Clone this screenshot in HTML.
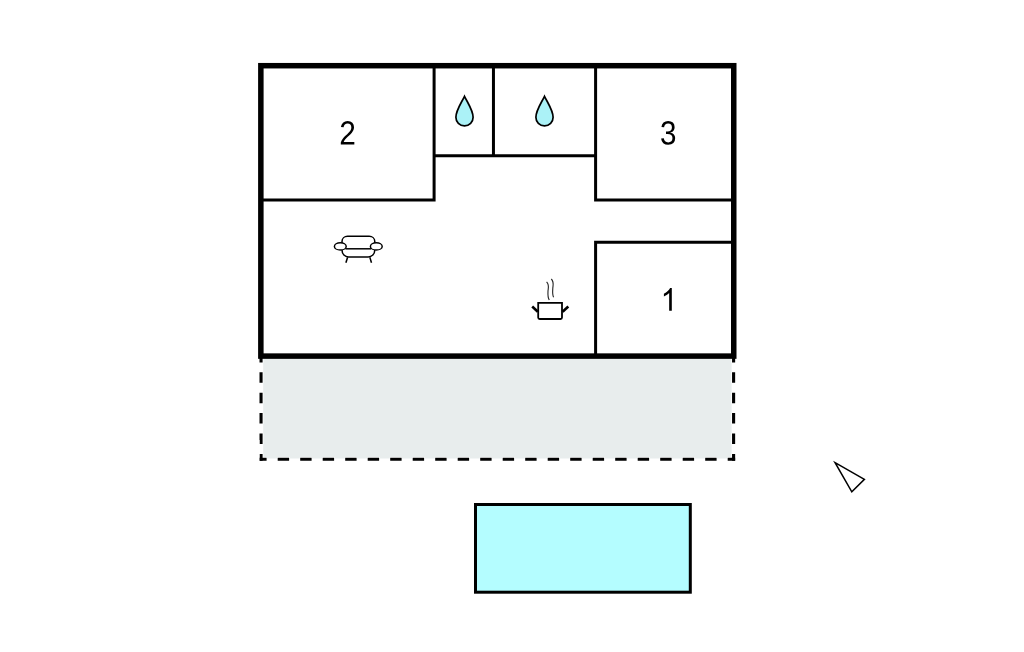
<!DOCTYPE html>
<html>
<head>
<meta charset="utf-8">
<title>Floor plan</title>
<style>
html,body{margin:0;padding:0;background:#ffffff;}
body{width:1024px;height:652px;overflow:hidden;font-family:"Liberation Sans",sans-serif;}
svg{display:block;}
text{font-family:"Liberation Sans",sans-serif;fill:#000;}
</style>
</head>
<body>
<svg width="1024" height="652" viewBox="0 0 1024 652">
<rect x="0" y="0" width="1024" height="652" fill="#ffffff"/>

<!-- terrace (grey, dashed) -->
<rect x="263.2" y="358" width="468.4" height="100.5" fill="#e8eded"/>
<g stroke="#fff" stroke-width="4.6" fill="none">
<line x1="261.05" y1="351.5" x2="261.05" y2="461.4" stroke-dasharray="11.3 9.1"/>
<line x1="733.6" y1="351.5" x2="733.6" y2="461.4" stroke-dasharray="11.3 9.1"/>
<line x1="254.8" y1="459.3" x2="735.9" y2="459.3" stroke-dasharray="12.2 10.3"/>
</g>
<g stroke="#000" stroke-width="3.1" fill="none">
<line x1="261.05" y1="351.9" x2="261.05" y2="460.8" stroke-dasharray="10.5 9.9"/>
<line x1="733.6" y1="351.9" x2="733.6" y2="460.8" stroke-dasharray="10.5 9.9"/>
<line x1="255.2" y1="459.3" x2="735.15" y2="459.3" stroke-dasharray="11.4 11.1"/>
</g>
<rect x="250" y="440" width="9.5" height="30" fill="#fff"/>

<!-- interior walls -->
<g stroke="#000" stroke-width="3" fill="none" stroke-linejoin="miter" stroke-linecap="butt">
<polyline points="261,200.1 434.1,200.1 434.1,66"/>
<polyline points="434.1,155.7 595.6,155.7"/>
<line x1="493.45" y1="66" x2="493.45" y2="155.7"/>
<polyline points="595.6,66 595.6,200.1 734,200.1"/>
<polyline points="734,242.3 595.6,242.3 595.6,356"/>
</g>

<!-- outer wall -->
<rect x="260.85" y="65.7" width="472.9" height="290.4" fill="none" stroke="#000" stroke-width="5.5"/>

<!-- pool -->
<rect x="475.5" y="504.5" width="214.8" height="87.7" fill="#b4fdff" stroke="#000" stroke-width="3"/>

<!-- room numbers (outlined glyphs) -->
<g fill="#000" stroke="none">
<path transform="translate(339.31,144.5) scale(0.0145,-0.01643)" d="M103 0V127Q154 244 227.5 333.5Q301 423 382.0 495.5Q463 568 542.5 630.0Q622 692 686.0 754.0Q750 816 789.5 884.0Q829 952 829 1038Q829 1154 761.0 1218.0Q693 1282 572 1282Q457 1282 382.5 1219.5Q308 1157 295 1044L111 1061Q131 1230 254.5 1330.0Q378 1430 572 1430Q785 1430 899.5 1329.5Q1014 1229 1014 1044Q1014 962 976.5 881.0Q939 800 865.0 719.0Q791 638 582 468Q467 374 399.0 298.5Q331 223 301 153H1036V0Z"/>
<path transform="translate(659.97,144.5) scale(0.0145,-0.01643)" d="M1049 389Q1049 194 925.0 87.0Q801 -20 571 -20Q357 -20 229.5 76.5Q102 173 78 362L264 379Q300 129 571 129Q707 129 784.5 196.0Q862 263 862 395Q862 510 773.5 574.5Q685 639 518 639H416V795H514Q662 795 743.5 859.5Q825 924 825 1038Q825 1151 758.5 1216.5Q692 1282 561 1282Q442 1282 368.5 1221.0Q295 1160 283 1049L102 1063Q122 1236 245.5 1333.0Q369 1430 563 1430Q775 1430 892.5 1331.5Q1010 1233 1010 1057Q1010 922 934.5 837.5Q859 753 715 723V719Q873 702 961.0 613.0Q1049 524 1049 389Z"/>
<path transform="translate(660.64,310.8) scale(0.01463,-0.01549)" d="M763 0H583V1147Q518 1085 412.5 1023Q307 961 223 930V1104Q374 1175 487 1276Q600 1377 647 1472H763Z"/>
</g>

<!-- water drops -->
<g fill="#abf2f7" stroke="#000" stroke-width="1.7" stroke-linejoin="miter">
<path id="drop" d="M464.5,96.3 C461,103.5 455.9,110.5 455.9,117.3 C455.9,122.3 459.6,125.9 464.5,125.9 C469.4,125.9 473.1,122.3 473.1,117.3 C473.1,110.5 468,103.5 464.5,96.3 Z"/>
<path d="M544.5,96.3 C541,103.5 535.9,110.5 535.9,117.3 C535.9,122.3 539.6,125.9 544.5,125.9 C549.4,125.9 553.1,122.3 553.1,117.3 C553.1,110.5 548,103.5 544.5,96.3 Z"/>
</g>

<!-- sofa -->
<g fill="none" stroke="#000" stroke-width="1.5" stroke-linecap="butt">
<path d="M342,243.2 L342,241.5 C342,238.3 344.5,236.3 347.5,236.3 L369.2,236.3 C372.2,236.3 374.8,238.3 374.8,241.5 L374.8,243.2"/>
<ellipse cx="340.3" cy="246.4" rx="5.9" ry="3.6" fill="#fff"/>
<ellipse cx="376.3" cy="246.4" rx="5.9" ry="3.6" fill="#fff"/>
<line x1="345.5" y1="248.8" x2="371" y2="248.8"/>
<path d="M342,250 C342,254.2 345,257 348.5,257 L368.2,257 C371.7,257 374.8,254.2 374.8,250"/>
<line x1="347.6" y1="257.2" x2="345.9" y2="262.7"/>
<line x1="369.8" y1="257.2" x2="371.5" y2="262.7"/>
</g>

<!-- pot -->
<g fill="none" stroke="#000">
<path d="M538.2,302.9 L562,302.9 L562,317.5 Q562,319 560.5,319 L539.7,319 Q538.2,319 538.2,317.5 Z" stroke-width="1.8" fill="#fff"/>
<line x1="532.2" y1="306.5" x2="537.8" y2="311.7" stroke-width="2.6"/>
<line x1="568.3" y1="306.5" x2="562.6" y2="311.7" stroke-width="2.6"/>
<path d="M546.6,281.8 C549.6,285 548.2,288 548,291 C547.8,294.5 547.6,297.5 549.3,300" stroke="#2a2a2a" stroke-width="1.15"/>
<path d="M551.3,279 C554.3,282.2 553,285.2 552.8,288.2 C552.6,291.7 552.2,294.7 553.6,297.3" stroke="#2a2a2a" stroke-width="1.15"/>
</g>

<!-- compass arrow -->
<polygon points="835.1,462.7 864.4,479.4 851.8,491.8" fill="#fff" stroke="#000" stroke-width="1.5" stroke-linejoin="miter"/>
</svg>
</body>
</html>
